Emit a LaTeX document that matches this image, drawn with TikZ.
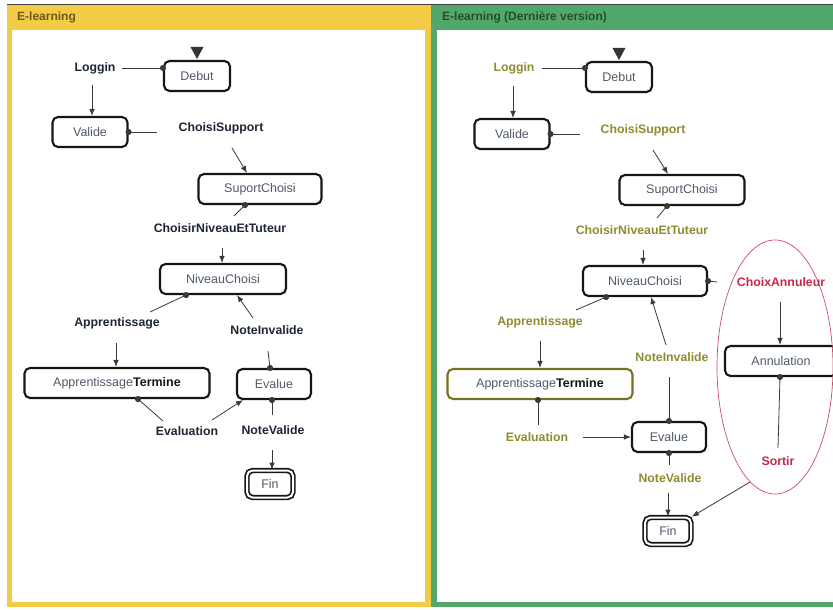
\documentclass[tikz,border=0pt]{standalone}
\usepackage{fontspec}
\setmainfont{Liberation Sans}
\usetikzlibrary{arrows.meta,calc}

\definecolor{panelyellow}{HTML}{F4CB45}
\definecolor{panelgreen}{HTML}{52A86A}
\definecolor{titleolive}{HTML}{6B5A1E}
\definecolor{titlegreen}{HTML}{284C2C}
\definecolor{lbldark}{HTML}{1E2535}
\definecolor{lblolive}{HTML}{8F8C2E}
\definecolor{lblred}{HTML}{C8284A}
\definecolor{boxtext}{HTML}{505A6A}
\definecolor{boxborder}{HTML}{161616}
\definecolor{oliveborder}{HTML}{747423}
\definecolor{linecol}{HTML}{3A3A3A}
\definecolor{cancelring}{HTML}{D04A68}

\begin{document}
\begin{tikzpicture}[x=1pt,y=-1pt,
  statebox/.style={draw=boxborder, line width=2.1pt, rounded corners=5.5pt,
    minimum height=30pt, inner sep=0pt, text=boxtext,
    font={\fontsize{12.5pt}{14pt}\selectfont}},
  finalbox/.style={statebox, double, double distance=2pt, line width=1.7pt,
    minimum height=27pt, minimum width=46pt},
  lbl/.style={inner sep=0pt, font={\fontsize{12.3pt}{14pt}\selectfont\bfseries}},
  lblL/.style={lbl, text=lbldark},
  lblR/.style={lbl, text=lblolive},
  lblX/.style={lbl, text=lblred},
  paneltitle/.style={anchor=west, inner sep=0pt, font={\fontsize{12pt}{14pt}\selectfont\bfseries}},
  conn/.style={draw=linecol, line width=0.8pt},
  arr/.style={conn, -{Latex[length=7pt,width=5.5pt]}},
  dotted src/.style={conn, {Circle[length=6pt]}-, shorten <=-3pt},
  initial/.style={fill=linecol!90!black}
]
\useasboundingbox (0,0) rectangle (833,610);
\fill[white] (0,0) rectangle (833,610);

% ---------- panels ----------
\fill[panelyellow] (7,4) rectangle (431,607);
\fill[white] (12,30) rectangle (425,602);
\fill[panelgreen] (431,4) rectangle (845,607);
\fill[white] (437,30) rectangle (845,602);
\draw[black!75, line width=1pt] (7,4.5) -- (845,4.5);
\node[paneltitle, text=titleolive] (titleA) at (17,17) {E-learning};
\node[paneltitle, text=titlegreen] (titleB) at (442,17) {E-learning (Dernière version)};

% ---------- first version ----------
\node[statebox, minimum width=66pt] (debut) at (197,76) {Debut};
\node[statebox, minimum width=75pt] (valide) at (90,132) {Valide};
\node[statebox, minimum width=123pt] (suport) at (260,189) {SuportChoisi};
\node[statebox, minimum width=126pt] (niveau) at (223,279) {NiveauChoisi};
\node[statebox, minimum width=185pt] (apprT) at (117,383) {Apprentissage\textcolor{boxborder}{\bfseries Termine}};
\node[statebox, minimum width=74pt] (evalue) at (274,384) {Evalue};
\node[finalbox] (fin) at (270,484) {Fin};

\fill[initial] ([xshift=-6.5pt,yshift=13pt]debut.north) -- ([xshift=6.5pt,yshift=13pt]debut.north) -- ([yshift=1pt]debut.north) -- cycle;

\node[lblL] (loggin) at (95,68) {Loggin};
\node[lblL] (choisiSupport) at (221,128) {ChoisiSupport};
\node[lblL] (choisirNET) at (220,228) {ChoisirNiveauEtTuteur};
\node[lblL] (apprentissage) at (117,323) {Apprentissage};
\node[lblL] (noteInvalide) at (267,330) {NoteInvalide};
\node[lblL] (evaluation) at (187,431) {Evaluation};
\node[lblL] (noteValide) at (273,430) {NoteValide};

\draw[dotted src] (debut.west |- loggin) -- ($(loggin)+(27,0)$);
\draw[arr] ($(loggin)+(-3,17)$) -- ([xshift=2pt]valide.north);
\draw[dotted src] (valide.east) -- ($(choisiSupport)+(-64,4)$);
\draw[arr] ($(choisiSupport)+(11,20)$) -- ([xshift=-13pt]suport.north);
\draw[dotted src] ([xshift=-15pt]suport.south) -- ($(choisirNET)+(14,-12)$);
\draw[arr] ($(choisirNET)+(2,20)$) -- ([xshift=-1pt]niveau.north);
\draw[dotted src] ([xshift=-37pt]niveau.south) -- ($(apprentissage)+(33,-11)$);
\draw[arr] ($(apprentissage)+(-1,20)$) -- ([xshift=-1pt]apprT.north);
\draw[dotted src] ([xshift=-4pt]evalue.north) -- ($(noteInvalide)+(1,21)$);
\draw[arr] ($(noteInvalide)+(-14,-12)$) -- ([xshift=14pt]niveau.south);
\draw[dotted src] ([xshift=21pt]apprT.south) -- ($(evaluation)+(-24,-10)$);
\draw[arr] ($(evaluation)+(25,-11)$) -- ([xshift=7pt]evalue.south west);
\draw[dotted src] ([xshift=-2pt]evalue.south) -- ($(noteValide)+(-1,-15)$);
\draw[arr] ($(noteValide)+(-1,20)$) -- ([xshift=2pt]fin.north);

% ---------- latest version ----------
\node[statebox, minimum width=66pt] (debutB) at (619,77) {Debut};
\node[statebox, minimum width=75pt] (valideB) at (512,134) {Valide};
\node[statebox, minimum width=125pt] (suportB) at (682,190) {SuportChoisi};
\node[statebox, minimum width=124pt] (niveauB) at (645,281) {NiveauChoisi};
\node[statebox, draw=oliveborder, minimum width=185pt] (apprTB) at (540,384) {Apprentissage\textcolor{boxborder}{\bfseries Termine}};
\node[statebox, minimum width=74pt] (evalueB) at (669,437) {Evalue};
\node[finalbox] (finB) at (668,531) {Fin};
\node[statebox, minimum width=112pt] (annul) at (781,361) {Annulation};

\fill[initial] ([xshift=-6.5pt,yshift=13pt]debutB.north) -- ([xshift=6.5pt,yshift=13pt]debutB.north) -- ([yshift=1pt]debutB.north) -- cycle;

\draw[cancelring, line width=0.7pt] (775,367) ellipse [x radius=58, y radius=127];

\node[lblR] (logginB) at (514,68) {Loggin};
\node[lblR] (choisiSupportB) at (643,130) {ChoisiSupport};
\node[lblR] (choisirNETB) at (642,230) {ChoisirNiveauEtTuteur};
\node[lblR] (apprentissageB) at (540,322) {Apprentissage};
\node[lblR] (noteInvalideB) at (672,357) {NoteInvalide};
\node[lblR] (evaluationB) at (537,437) {Evaluation};
\node[lblR] (noteValideB) at (670,478) {NoteValide};
\node[lblX] (choix) at (781,282) {ChoixAnnuleur};
\node[lblX] (sortir) at (778,461) {Sortir};

\draw[dotted src] (debutB.west |- logginB) -- ($(logginB)+(28,0)$);
\draw[arr] ($(logginB)+(-1,18)$) -- ([xshift=1pt]valideB.north);
\draw[dotted src] (valideB.east) -- ($(choisiSupportB)+(-63,4)$);
\draw[arr] ($(choisiSupportB)+(10,20)$) -- ([xshift=-14pt]suportB.north);
\draw[dotted src] ([xshift=-15pt]suportB.south) -- ($(choisirNETB)+(15,-12)$);
\draw[arr] ($(choisirNETB)+(1,20)$) -- ([xshift=-2pt]niveauB.north);
\draw[dotted src] (niveauB.east) -- ($(choix)+(-64,0)$);
\draw[arr] ($(choix)+(-1,20)$) -- ([xshift=-1pt]annul.north);
\draw[dotted src] ([xshift=-1pt]annul.south) -- ($(sortir)+(0,-13)$);
\draw[arr] ($(sortir)+(-28,21)$) -- (finB.north east);
\draw[dotted src] ([xshift=-39pt]niveauB.south) -- ($(apprentissageB)+(36,-12)$);
\draw[arr] ($(apprentissageB)+(0,19)$) -- (apprTB.north);
\draw[dotted src] (evalueB.north) -- ($(noteInvalideB)+(-3,20)$);
\draw[arr] ($(noteInvalideB)+(-6,-12)$) -- ([xshift=6pt]niveauB.south);
\draw[dotted src] ([xshift=-2pt]apprTB.south) -- ($(evaluationB)+(1,-12)$);
\draw[arr] ($(evaluationB)+(46,0)$) -- (evalueB.west);
\draw[dotted src] (evalueB.south) -- ($(noteValideB)+(-1,-13)$);
\draw[arr] ($(noteValideB)+(-2,15)$) -- (finB.north);
\end{tikzpicture}
\end{document}
